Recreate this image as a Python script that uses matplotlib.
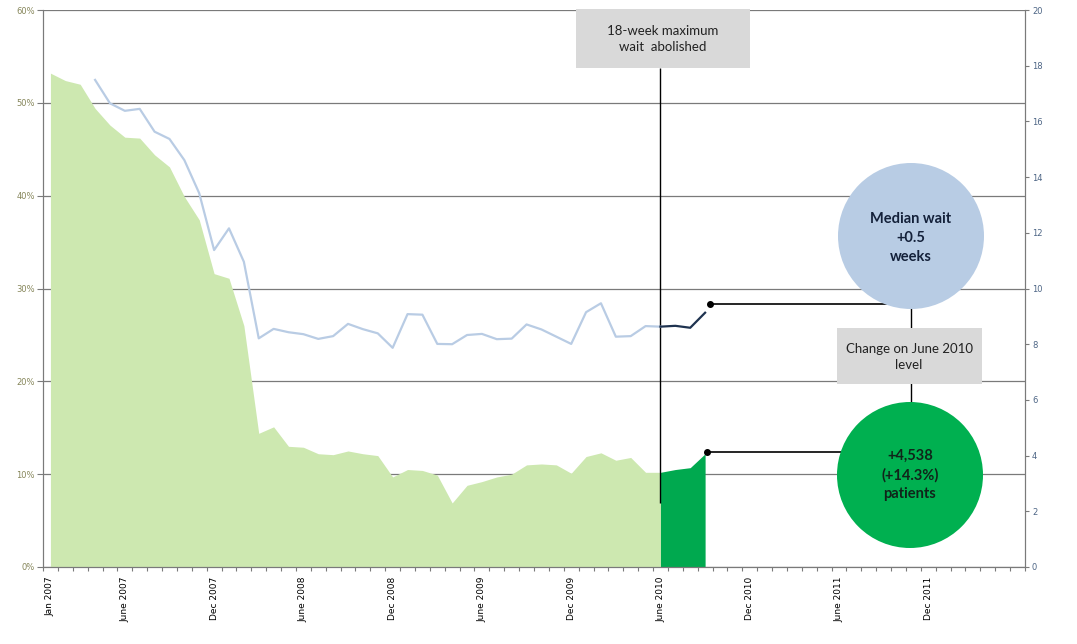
import matplotlib
matplotlib.use("Agg")
import matplotlib.pyplot as plt
from matplotlib.patches import Circle, Rectangle

# months from Jan 2007 to June 2012 (category axis)
n_months = 66
tick_idx = [0, 5, 11, 17, 23, 29, 35, 41, 47, 53, 59]
tick_labels = ["Jan 2007", "June 2007", "Dec 2007", "June 2008", "Dec 2008", "June 2009",
               "Dec 2009", "June 2010", "Dec 2010", "June 2011", "Dec 2011"]

# share of patients waiting over 18 weeks (%), Jan 2007 .. June 2010
pct_start = 0
pct_before = [53.2, 52.4, 52.0, 49.4, 47.6, 46.3, 46.2, 44.4, 43.1, 39.9, 37.4, 31.6, 31.1, 26.0,
              14.4, 15.1, 13.0, 12.9, 12.2, 12.1, 12.5, 12.2, 12.0, 9.7, 10.5, 10.4, 9.9, 6.9,
              8.8, 9.2, 9.7, 10.0, 11.0, 11.1, 11.0, 10.1, 11.9, 12.3, 11.5, 11.8, 10.2, 10.2]
# June 2010 .. Sep 2010
pct_after_start = 41
pct_after = [10.2, 10.5, 10.7, 12.2]

# median wait (weeks), Apr 2007 .. June 2010
wait_start = 3
wait_before = [17.49, 16.65, 16.38, 16.45, 15.63, 15.37, 14.61, 13.42, 11.38, 12.16, 10.96,
               8.21, 8.55, 8.43, 8.36, 8.19, 8.29, 8.73, 8.54, 8.39, 7.87, 9.08, 9.06, 8.01,
               8.0, 8.33, 8.37, 8.18, 8.20, 8.71, 8.53, 8.27, 8.01, 9.15, 9.47, 8.27, 8.29,
               8.65, 8.63]
wait_after_start = 41
wait_after = [8.63, 8.66, 8.59, 9.13]

W, H = 1077, 644
fig = plt.figure(figsize=(W / 100, H / 100), dpi=100)
ax = fig.add_axes([43 / W, 1 - 567 / H, (1025 - 43) / W, (567 - 10) / H])
ax2 = ax.twinx()

grid_c = "#7a7a7a"
x_before = list(range(pct_start, pct_start + len(pct_before)))
x_after = list(range(pct_after_start, pct_after_start + len(pct_after)))
ax.fill_between(x_before, 0, pct_before, color="#cde8b0", lw=0, zorder=2)
ax.fill_between(x_after, 0, pct_after, color="#00a94f", lw=0, zorder=2)

ax.set_xlim(-0.5, n_months - 0.5)
ax.set_ylim(0, 60)
ax.set_yticks(range(0, 61, 10))
ax.set_yticklabels([f"{v}%" for v in range(0, 61, 10)])
ax.yaxis.grid(True, color=grid_c, lw=0.9, zorder=0)
ax.set_axisbelow(True)
ax.tick_params(axis="y", labelsize=6, labelcolor="#86865a", color=grid_c, length=4, pad=2)

ax.set_xticks([i - 0.5 for i in range(n_months + 1)])
ax.set_xticklabels([])
ax.set_xticks(tick_idx, minor=True)
ax.set_xticklabels(tick_labels, minor=True, rotation=90, fontsize=6.5, va="top")
ax.tick_params(axis="x", which="major", color=grid_c, length=3)
ax.tick_params(axis="x", which="minor", length=0, pad=7)

ax.spines["top"].set_visible(False)
ax2.spines["top"].set_visible(False)
for a in (ax, ax2):
    a.spines["left"].set_color(grid_c)
    a.spines["right"].set_color(grid_c)
    a.spines["bottom"].set_color(grid_c)

w_before = list(range(wait_start, wait_start + len(wait_before)))
w_after = list(range(wait_after_start, wait_after_start + len(wait_after)))
ax2.plot(w_before, wait_before, color="#b9cce4", lw=1.6, zorder=3)
ax2.plot(w_after, wait_after, color="#1f3350", lw=1.6, zorder=3)
ax2.set_ylim(0, 20)
ax2.set_yticks(range(0, 21, 2))
ax2.tick_params(axis="y", labelsize=6, labelcolor="#4d6585", color=grid_c, length=3, pad=2)

# June 2010 marker line
ax.vlines(pct_after_start, 6.9, 53.8, color="black", lw=1, zorder=4)

# end-point dots
dot_wait = (w_after[-1] + 0.3, wait_after[-1] + 0.3)
dot_pct = (x_after[-1] + 0.1, pct_after[-1] + 0.2)
ax2.plot(*dot_wait, "o", color="black", ms=4, zorder=5)
ax.plot(*dot_pct, "o", color="black", ms=4, zorder=5)

# overlay in pixel coordinates for the annotations
ov = fig.add_axes([0, 0, 1, 1])
ov.axis("off")
ov.patch.set_alpha(0)
ov.set_xlim(0, W)
ov.set_ylim(H, 0)

def to_px(a, pt):
    x, y = a.transData.transform(pt)
    return x, H - y

bx, by = to_px(ax2, dot_wait)
gx, gy = to_px(ax, dot_pct)
ov.plot([bx, 895], [by, by], color="black", lw=1.2, zorder=1)
ov.plot([gx, 860], [gy, gy], color="black", lw=1.2, zorder=1)
ov.plot([911, 911], [300, 330], color="black", lw=1, zorder=1)
ov.plot([911, 911], [382, 410], color="black", lw=1, zorder=1)

ov.add_patch(Rectangle((576, 9), 174, 59, color="#d9d9d9", lw=0, zorder=2))
ov.text(663, 39, "18-week maximum\nwait  abolished", ha="center", va="center",
        fontsize=9.5, family="Lato", color="#222222", linespacing=1.35, zorder=3)
ov.add_patch(Rectangle((837, 328), 145, 56, color="#d9d9d9", lw=0, zorder=2))
ov.text(909, 357, "Change on June 2010\nlevel", ha="center", va="center",
        fontsize=9.5, family="Lato", color="#222222", linespacing=1.35, zorder=3)

ov.add_patch(Circle((911, 236), 73, color="#b8cce4", lw=0, zorder=2))
ov.text(911, 238, "Median wait\n+0.5\nweeks", ha="center", va="center", fontsize=10.5,
        fontweight="bold", family="Lato", color="#14213a", linespacing=1.45, zorder=3)
ov.add_patch(Circle((910, 475), 73, color="#00b050", lw=0, zorder=2))
ov.text(910, 475, "+4,538\n(+14.3%)\npatients", ha="center", va="center", fontsize=10.5,
        fontweight="bold", family="Lato", color="#10241a", linespacing=1.45, zorder=3)

fig.savefig("out.png", dpi=100)
